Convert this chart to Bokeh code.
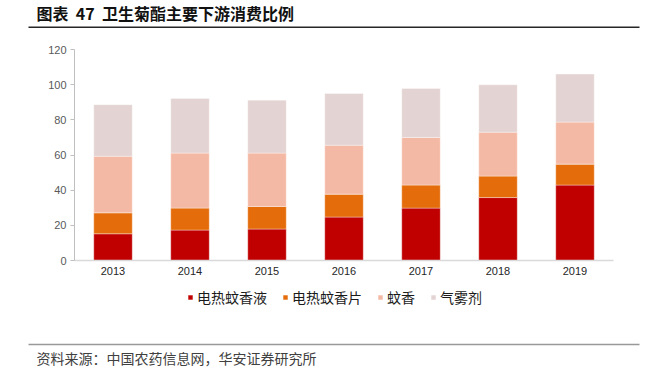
from bokeh.plotting import figure
from bokeh.models import Legend, LegendItem, Label, BoxAnnotation, ColumnDataSource, FixedTicker, Range1d
from bokeh.embed import file_html
from bokeh.resources import INLINE

years = ["2013", "2014", "2015", "2016", "2017", "2018", "2019"]
liquid = [15.2, 17.3, 17.9, 24.7, 29.8, 35.8, 42.9]
mat = [11.9, 12.5, 12.8, 13.0, 13.1, 12.2, 11.9]
coil = [32.2, 31.3, 30.4, 27.9, 27.1, 25.0, 23.9]
aerosol = [29.3, 31.1, 30.1, 29.4, 27.8, 26.9, 27.3]
names = ["电热蚊香液", "电热蚊香片", "蚊香", "气雾剂"]
colors = ["#C00000", "#E46C0A", "#F4B9A5", "#E4D3D3"]
yticks = [0, 20, 40, 60, 80, 100, 120]

W, H = 658, 376
idx = list(range(len(years)))
source = ColumnDataSource(dict(x=idx, liquid=liquid, mat=mat, coil=coil, aerosol=aerosol))

# frame covers the whole canvas; axes are drawn at fixed locations inside it
px_x = 77.0          # pixels per category
x0_px = 112.5        # pixel of first category centre
px_y = 211.0 / 120   # pixels per unit
y0_px = 260.0        # pixel of value 0
x_range = Range1d(-x0_px / px_x, (W - x0_px) / px_x)
y_range = Range1d(-(H - y0_px) / px_y, y0_px / px_y)

p = figure(x_range=x_range, y_range=y_range, width=W, height=H,
           output_backend="svg", toolbar_location=None, title=None,
           min_border=0, min_border_left=0, min_border_right=0,
           min_border_top=0, min_border_bottom=0)

rs = p.vbar_stack(["liquid", "mat", "coil", "aerosol"], x="x", width=0.5, color=colors,
                  line_color="white", line_width=0.6, line_alpha=0.6, source=source)

p.xgrid.visible = False
p.ygrid.visible = False
p.outline_line_color = None

ya = p.yaxis[0]
ya.fixed_location = -0.5
ya.bounds = (0, 120)
ya.ticker = FixedTicker(ticks=yticks)
ya.axis_line_color = "#bfbfbf"
ya.major_tick_line_color = "#bfbfbf"
ya.major_tick_out = 4
ya.major_tick_in = 0
ya.minor_tick_line_color = None
ya.major_label_text_font = "Liberation Sans"
ya.major_label_text_font_size = "11px"
ya.major_label_text_color = "#595959"
ya.major_label_standoff = 4

xa = p.xaxis[0]
xa.fixed_location = 0
xa.bounds = (-0.5, len(years) - 0.5)
xa.ticker = FixedTicker(ticks=idx)
xa.major_label_overrides = {i: y for i, y in zip(idx, years)}
xa.axis_line_color = "#d9d9d9"
xa.axis_line_width = 1.5
xa.major_tick_line_color = None
xa.major_tick_out = 0
xa.major_tick_in = 0
xa.minor_tick_line_color = None
xa.major_label_text_font = "Liberation Sans"
xa.major_label_text_font_size = "11px"
xa.major_label_text_color = "#262626"
xa.major_label_standoff = 6

legend = Legend(items=[LegendItem(label=n, renderers=[r]) for n, r in zip(names, rs)],
                orientation="horizontal", location=(187, H - 307), padding=0, margin=0,
                spacing=15, glyph_width=6, glyph_height=6, label_standoff=4,
                label_height=14, label_text_font="Noto Sans CJK SC",
                label_text_font_size="14px", label_text_color="#1a1a1a",
                border_line_color=None, background_fill_alpha=0)
p.add_layout(legend)

nb = "\u00a0\u00a0"
p.add_layout(Label(x=36, y=H - 12, x_units="screen", y_units="screen",
                   text="图表" + nb + "47" + nb + "卫生菊酯主要下游消费比例", text_font="Noto Sans CJK SC",
                   text_font_style="bold", text_font_size="16px", text_color="#111111",
                   text_baseline="middle"))
p.add_layout(Label(x=36, y=H - 357, x_units="screen", y_units="screen",
                   text="资料来源：中国农药信息网，华安证券研究所", text_font="Noto Sans CJK SC",
                   text_font_size="14px", text_color="#404040", text_baseline="middle"))

p.add_layout(BoxAnnotation(left=28, right=639, top=H - 26.0, bottom=H - 27.4,
                           left_units="screen", right_units="screen", top_units="screen", bottom_units="screen",
                           fill_color="#262626", fill_alpha=1, line_color=None))
p.add_layout(BoxAnnotation(left=28, right=639, top=H - 343.3, bottom=H - 344.8,
                           left_units="screen", right_units="screen", top_units="screen", bottom_units="screen",
                           fill_color="#999999", fill_alpha=1, line_color=None))

open("out.html", "w").write(file_html(p, INLINE))
